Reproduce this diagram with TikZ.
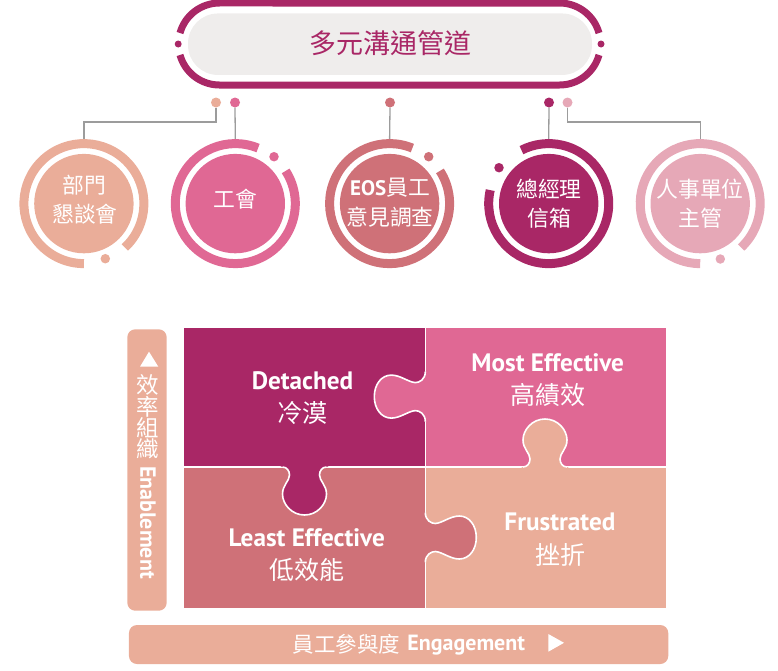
\documentclass[tikz,border=0pt]{standalone}
\usepackage{fontspec}
\setmainfont{PT Sans}
\newfontfamily\cjk{Noto Sans CJK TC}
\newfontfamily\lat{PT Sans}
\definecolor{cplum}{HTML}{A92766}
\definecolor{cpink}{HTML}{E06894}
\definecolor{crose}{HTML}{CF7178}
\definecolor{cpeach}{HTML}{EAAD99}
\definecolor{cblush}{HTML}{E6A8B7}
\definecolor{cpill}{HTML}{EFEDEC}
\definecolor{cwire}{HTML}{9C9C9C}
\newcommand\sidetabpath{(0,-25) .. controls (0,-17) and (6,-14) .. (10,-14) .. controls (17,-14.5) and (25,-21.5) .. (34,-21.5) .. controls (44,-21.5) and (51,-12) .. (51,0) .. controls (51,12) and (44,21.5) .. (34,21.5) .. controls (25,21.5) and (17,14.5) .. (10,14) .. controls (6,14) and (0,17) .. (0,25)}
\newcommand\knobtabpath{(0,-22) .. controls (0,-17.5) and (4,-15) .. (8,-15) .. controls (14,-15) and (18,-22) .. (27,-22) .. controls (37,-22) and (48,-13) .. (48,0) .. controls (48,13) and (37,22) .. (27,22) .. controls (18,22) and (14,15) .. (8,15) .. controls (4,15) and (0,17.5) .. (0,22)}
\newcommand\ringarc[4]{\begin{scope}[shift={(#1)},x=1pt,y=1pt]\draw[ringline,color=#2] (#3:60) arc[start angle=#3,end angle=#4,radius=60];\end{scope}}
\newcommand\puzzletab[4]{\begin{scope}[shift={(#1)},rotate=#2]\fill[#3] #4 -- (-1.5,25) -- (-1.5,-25) -- cycle;\draw[seam] #4;\end{scope}}
\tikzset{
  wire/.style={draw=cwire,line width=1.3pt},
  pin/.style={circle,inner sep=0pt,minimum size=10pt},
  knob/.style={circle,inner sep=0pt,minimum size=9.5pt},
  disc/.style={circle,inner sep=0pt,minimum size=99.4pt},
  ringbox/.style={circle,inner sep=0pt,minimum size=129pt},
  ringline/.style={line width=9pt},
  cjktxt/.style={font=\cjk\fontsize{21.8}{21.8}\selectfont,text=white,inner sep=0pt},
  bigcjk/.style={font=\cjk\fontsize{25}{25}\selectfont,text=white,inner sep=0pt},
  bigen/.style={font=\lat\bfseries\fontsize{25.2}{25.2}\selectfont,text=white,inner sep=0pt},
  baren/.style={font=\lat\bfseries\fontsize{22}{22}\selectfont,text=white,inner sep=0pt},
  seam/.style={draw=white,line width=1.6pt},
  bar/.style={fill=cpeach,rounded corners=8pt,inner sep=0pt}
}
\begin{document}
\begin{tikzpicture}[x=1pt,y=-1pt]
\useasboundingbox (0,0) rectangle (778,670);
% hub
\node[fill=cpill,rounded corners=30pt,minimum width=404pt,minimum height=61.5pt,inner sep=0pt] (hub) at (390,44.2) {};
\node[font=\cjk\fontsize{27}{27}\selectfont,text=cplum,inner sep=0pt] (hubtext) at (390,43.5) {多元溝通管道};
\begin{scope}[shift={(389.5,44)},x=1pt,y=1pt,line width=7pt]
  \draw[cplum] (-209.5,10.96) arc[start angle=164.5,end angle=90,radius=41] -- (170,41) arc[start angle=90,end angle=15.5,radius=41];
  \draw[cplum] (-209.5,-10.96) arc[start angle=-164.5,end angle=-90,radius=41] -- (170,-41) arc[start angle=-90,end angle=-15.5,radius=41];
\end{scope}
\node[circle,fill=cplum,inner sep=0pt,minimum size=7pt] (hubl) at (178.2,44) {};
\node[circle,fill=cplum,inner sep=0pt,minimum size=7pt] (hubr) at (601,44) {};
% pins
\node[pin,fill=cpeach] (pa) at (216,102.5) {};
\node[pin,fill=cpink] (pb) at (235,102.5) {};
\node[pin,fill=crose] (pc) at (390,102.5) {};
\node[pin,fill=cplum] (pd) at (549,102.5) {};
\node[pin,fill=cblush] (pe) at (567.5,102.5) {};
% ring anchors
\node[ringbox] (ra) at (83.9,203.6) {};
\node[ringbox] (rb) at (235.3,203.6) {};
\node[ringbox] (rc) at (389.6,203.6) {};
\node[ringbox] (rd) at (548.7,203.6) {};
\node[ringbox] (re) at (700.2,203.6) {};
% wires
\coordinate (ea) at (83.9,122);
\coordinate (ee) at (700.2,122);
\draw[wire] (pa.south) |- (ea) -- (ra.north);
\draw[wire] (pb.south) -- (rb.north);
\draw[wire] (pc.south) -- (rc.north);
\draw[wire] (pd.south) -- (rd.north);
\draw[wire] (pe.south) |- (ee) -- (re.north);
% rings
\ringarc{ra.center}{cpeach}{-47}{270}
\ringarc{rb.center}{cpink}{67.7}{393}
\ringarc{rc.center}{crose}{67.7}{393}
\ringarc{rd.center}{cplum}{167}{477}
\ringarc{re.center}{cblush}{-47}{270}
% discs
\node[disc,fill=cpeach] (da) at (ra.center) {};
\node[disc,fill=cpink] (db) at (rb.center) {};
\node[disc,fill=crose] (dc) at (rc.center) {};
\node[disc,fill=cplum] (dd) at (rd.center) {};
\node[disc,fill=cblush] (de) at (re.center) {};
% knobs
\node[knob,fill=cpeach] (ka) at (105.3,258.7) {};
\node[knob,fill=cpink] (kb) at (274,156.7) {};
\node[knob,fill=crose] (kc) at (428.7,156.7) {};
\node[knob,fill=cplum] (kd) at (499,167.7) {};
\node[knob,fill=cblush] (ke) at (720.3,259) {};
% disc labels
\node[cjktxt] (ta1) at (84.5,185) {部門};
\node[cjktxt] (ta2) at (85,214) {懇談會};
\node[cjktxt] (tb1) at (235.3,199.5) {工會};
\node[cjktxt] (tc1) at (390,188) {{\lat\bfseries\fontsize{21}{21}\selectfont EOS}員工};
\node[cjktxt] (tc2) at (390,216.7) {意見調查};
\node[cjktxt] (td1) at (549,189.3) {總經理};
\node[cjktxt] (td2) at (549,218) {信箱};
\node[cjktxt] (te1) at (700,189) {人事單位};
\node[cjktxt] (te2) at (700,218) {主管};
% puzzle
\fill[cplum] (184,328) rectangle (425.3,467);
\fill[cpink] (425.3,328) rectangle (665.8,467);
\fill[crose] (184,467) rectangle (425.3,607.6);
\fill[cpeach] (425.3,467) rectangle (665.8,607.6);
\draw[seam] (425.3,328) -- (425.3,607.6);
\draw[seam] (184,467) -- (665.8,467);
\puzzletab{425.3,396.6}{180}{cpink}{\sidetabpath}
\puzzletab{425.3,537.5}{0}{crose}{\sidetabpath}
\puzzletab{304.5,467}{-90}{cplum}{\knobtabpath}
\puzzletab{545,467}{90}{cpeach}{\knobtabpath}
\node[bigen] (q1) at (302.5,380.7) {Detached};
\node[bigcjk] (q1c) at (302.5,413) {冷漠};
\node[bigen] (q2) at (547.7,362.7) {Most Effective};
\node[bigcjk] (q2c) at (547.7,395) {高績效};
\node[bigen] (q3) at (306.7,538) {Least Effective};
\node[bigcjk] (q3c) at (306.7,570) {低效能};
\node[bigen] (q4) at (560,522) {Frustrated};
\node[bigcjk] (q4c) at (560,555) {挫折};
% axes
\node[bar,minimum width=39.4pt,minimum height=281.4pt] (ybar) at (147,470) {};
\node[bar,minimum width=539.3pt,minimum height=39pt] (xbar) at (398.6,644.5) {};
\fill[white] (149,351.7) -- (158.3,366.7) -- (140,366.7) -- cycle;
\fill[white] (548.3,634) -- (564,642.8) -- (548.3,651.7) -- cycle;
\node[cjktxt,align=center,font=\cjk\fontsize{22.5}{20.7}\selectfont] (yc) at (148,416.5) {效\\率\\組\\織};
\node[baren,rotate=-90] (ye) at (148,522.5) {Enablement};
\node[cjktxt,font=\cjk\fontsize{21.5}{21.5}\selectfont] (xc) at (346.3,644.7) {員工參與度};
\node[baren] (xe) at (466.2,644.7) {Engagement};
\end{tikzpicture}
\end{document}
